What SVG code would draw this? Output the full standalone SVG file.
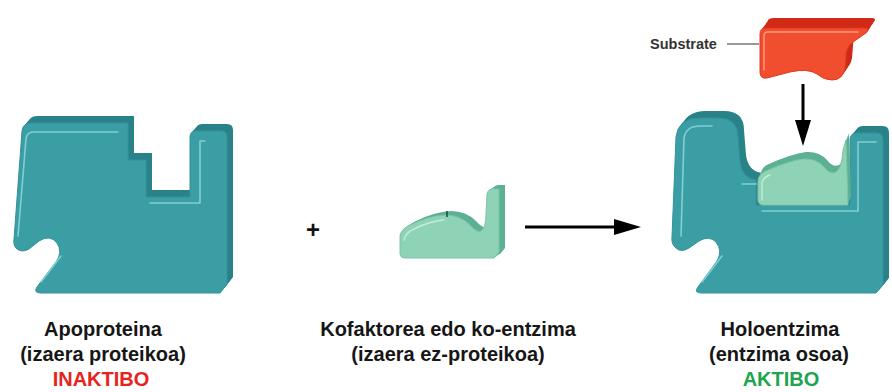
<svg xmlns="http://www.w3.org/2000/svg" xmlns:xlink="http://www.w3.org/1999/xlink" width="892" height="392" viewBox="0 0 892 392">
  <style>
    .lbl { font-family: "Liberation Sans", Arial, sans-serif; font-size: 20px; font-weight: bold; fill: #161616; text-anchor: middle; }
    .teal-side { fill: #2a8289; }
    .teal-face { fill: #3c9ea5; stroke: #33939a; stroke-width: 1; }
    .teal-hi { fill: none; stroke: #80cfd2; stroke-width: 1.6; stroke-linecap: round; stroke-linejoin: round; }
    .mint-side { fill: #5cb094; }
    .mint-face { fill: #8ed3b6; stroke: #7cc4a6; stroke-width: 1; }
    .mint-hi { fill: none; stroke: #c4ecdc; stroke-width: 1.4; stroke-linecap: round; }
    .red-side { fill: #d02a16; }
    .red-face { fill: #f14d2f; stroke: #e0391f; stroke-width: 1; }
    .red-hi { fill: none; stroke: #ff9a7e; stroke-width: 1.4; stroke-linecap: round; }
    .conn { stroke: #000; stroke-width: 3; fill: none; }
    .head { fill: #000; }
  </style>
  <defs>
    <!-- front outline of the apoprotein block -->
    <path id="apoFace" d="M 22 131 Q 23 123 31 123 L 128 123 L 128 160 L 146 160 L 146 197 L 190 197 L 190 137 Q 190 131 196 131 L 221 131 Q 227 131 227 137 L 227 284 L 220 293 L 41 293 Q 33 293 37 287 L 56 262 Q 63 252 57 243 Q 50 234 39 241 L 29 249 Q 22 253 17 249 Q 13 246 14 239 Z"/>
    <!-- front outline of the free cofactor -->
    <path id="cofFace" d="M 400 236 Q 401 229 410 225 Q 428 216 445 215 Q 460 215 470 225 Q 477 233 481 231 Q 486 228 486 214 L 487 194 Q 488 189 493 189 L 499 189 L 499 252 L 494 258 L 405 258 Q 400 258 400 253 Z"/>
    <!-- front outline of the holoenzyme body -->
    <path id="holoFace" d="M 676 137 Q 678 118 700 118 L 718 118 Q 738 118 738 137 L 740 162 Q 742 178 756 180 L 756 205 L 850 205 L 850 140 Q 850 133 857 133 L 877 133 Q 883 133 883 140 L 883 285 L 876 293 L 702 293 Q 693 293 698 287 L 717 261 Q 723 251 716 242 Q 709 235 699 241 L 689 248 Q 681 253 676 248 Q 671 244 672 237 Z"/>
    <!-- cofactor seated in the holoenzyme -->
    <path id="holoCof" d="M 758 182 Q 758 174 766 171 Q 788 161 803 159 Q 816 158 824 167 Q 830 175 836 172 Q 842 168 843 150 L 846 140 L 848 205 L 764 205 Q 758 205 758 200 Z"/>
    <!-- substrate block -->
    <path id="subFace" d="M 760 34 Q 760 28 766 28 L 864 28 Q 871 28 866 33 L 853 42 Q 846 47 846 56 L 845 68 Q 843 80 832 80 Q 824 80 817 74 Q 808 68 790 72 L 767 78 Q 760 79 760 72 Z"/>
  </defs>

  <!-- Apoprotein -->
  <g id="apoprotein">
    <use xlink:href="#apoFace" class="teal-side" transform="translate(6,-7)"/>
    <use xlink:href="#apoFace" class="teal-side" transform="translate(4.5,-5.25)"/>
    <use xlink:href="#apoFace" class="teal-side" transform="translate(3,-3.5)"/>
    <use xlink:href="#apoFace" class="teal-side" transform="translate(1.5,-1.75)"/>
    <use xlink:href="#apoFace" class="teal-face"/>
    <path class="teal-hi" d="M 118 132 L 33 132 Q 27 132 26 139 L 18 236"/>
    <path class="teal-hi" d="M 205 141 L 200 141 L 200 203 L 150 203"/>
    <path class="teal-hi" d="M 61 256 L 41 282"/>
  </g>

  <!-- Plus sign -->
  <g id="plus">
    <text x="313" y="238" font-family="'Liberation Sans', sans-serif" font-size="24" font-weight="bold" text-anchor="middle" fill="#111">+</text>
  </g>

  <!-- Cofactor / coenzyme -->
  <g id="cofactor">
    <use xlink:href="#cofFace" class="mint-side" transform="translate(6,-4)"/>
    <use xlink:href="#cofFace" class="mint-side" transform="translate(4,-2.7)"/>
    <use xlink:href="#cofFace" class="mint-side" transform="translate(2,-1.3)"/>
    <use xlink:href="#cofFace" class="mint-face"/>
    <path class="mint-hi" d="M 404 240 Q 406 232 414 229 Q 430 221 444 220"/>
    <line x1="447" y1="211" x2="447" y2="217" stroke="#1b3b33" stroke-width="1.4"/>
  </g>

  <!-- Substrate -->
  <g id="substrate">
    <use xlink:href="#subFace" class="red-side" transform="translate(7,-10)"/>
    <use xlink:href="#subFace" class="red-side" transform="translate(5,-7)"/>
    <use xlink:href="#subFace" class="red-side" transform="translate(3,-4)"/>
    <use xlink:href="#subFace" class="red-side" transform="translate(1.5,-2)"/>
    <use xlink:href="#subFace" class="red-face"/>
    <path class="red-hi" d="M 764 70 L 764 36 Q 764 32 768 32 L 858 32"/>
    <text x="650" y="49" font-family="'Liberation Sans', Arial, sans-serif" font-size="14.5" font-weight="bold" fill="#333">Substrate</text>
    <line x1="727" y1="44" x2="759" y2="44" stroke="#555" stroke-width="1.2"/>
  </g>

  <!-- Holoenzyme -->
  <g id="holoenzyme">
    <use xlink:href="#holoFace" class="teal-side" transform="translate(6,-7)"/>
    <use xlink:href="#holoFace" class="teal-side" transform="translate(4.5,-5.25)"/>
    <use xlink:href="#holoFace" class="teal-side" transform="translate(3,-3.5)"/>
    <use xlink:href="#holoFace" class="teal-side" transform="translate(1.5,-1.75)"/>
    <use xlink:href="#holoFace" class="teal-face"/>
    <use xlink:href="#holoCof" class="mint-side" transform="translate(3,-7)"/>
    <use xlink:href="#holoCof" class="mint-side" transform="translate(2,-4.5)"/>
    <use xlink:href="#holoCof" class="mint-side" transform="translate(1,-2.2)"/>
    <use xlink:href="#holoCof" class="mint-face"/>
    <path class="teal-hi" d="M 681 236 L 684 138 Q 686 126 700 126 L 712 126"/>
    <path class="teal-hi" d="M 742 184 L 756 184"/>
    <path class="teal-hi" d="M 876 142 L 858 142 L 858 211 L 762 211"/>
    <path class="teal-hi" d="M 722 256 L 702 282"/>
    <path class="mint-hi" d="M 762 200 L 762 183 Q 763 177 770 175"/>
  </g>

  <!-- Connectors -->
  <g id="connectors">
    <line class="conn" x1="525" y1="227" x2="618" y2="227"/>
    <polygon class="head" points="614,219 641,227 614,235"/>
    <line class="conn" x1="803" y1="84" x2="803" y2="124"/>
    <polygon class="head" points="795,120 811,120 803,146"/>
  </g>

  <!-- Labels -->
  <g id="labels">
    <text class="lbl" x="103" y="336">Apoproteina</text>
    <text class="lbl" x="103" y="361">(izaera proteikoa)</text>
    <text class="lbl" x="101" y="386" style="fill:#e8231e">INAKTIBO</text>
    <text class="lbl" x="448" y="336">Kofaktorea edo ko-entzima</text>
    <text class="lbl" x="448" y="361">(izaera ez-proteikoa)</text>
    <text class="lbl" x="780" y="336">Holoentzima</text>
    <text class="lbl" x="779" y="361">(entzima osoa)</text>
    <text class="lbl" x="781" y="386" style="fill:#21a44f">AKTIBO</text>
  </g>
</svg>
